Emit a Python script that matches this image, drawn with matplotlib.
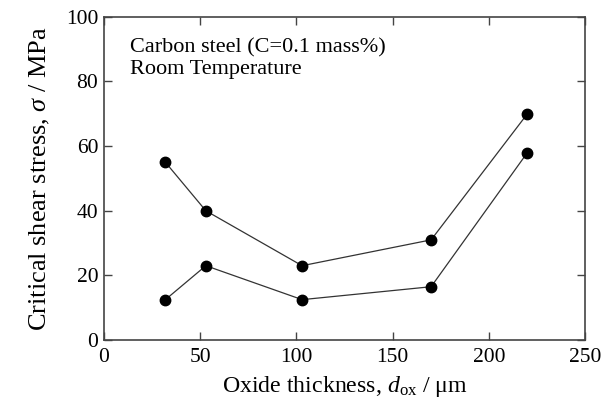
import matplotlib
matplotlib.use("Agg")
import matplotlib.pyplot as plt

# data
thickness = [32, 53, 103, 170, 220]
stress_upper = [55, 40, 23, 31, 70]
stress_lower = [12.5, 23, 12.5, 16.5, 58]

plt.rcParams["font.family"] = ["Liberation Serif", "DejaVu Serif"]
plt.rcParams["mathtext.fontset"] = "custom"
plt.rcParams["mathtext.rm"] = "Liberation Serif"
plt.rcParams["mathtext.it"] = "Liberation Serif:italic"

fig = plt.figure(figsize=(6.07, 4.01), dpi=100)
ax = fig.add_axes([0.171, 0.152, 0.793, 0.806])

for ys in (stress_upper, stress_lower):
    ax.plot(thickness, ys, color="#333333", linewidth=0.9,
            marker="o", markersize=7.5, markerfacecolor="black",
            markeredgecolor="black", zorder=3)

ax.set_xlim(0, 250)
ax.set_ylim(0, 100)
ax.set_xticks(range(0, 251, 50))
ax.set_yticks(range(0, 101, 20))
ax.tick_params(direction="in", length=6, width=1, labelsize=15.5,
               top=True, right=True, color="#444444")
ax.tick_params(axis="x", pad=6)
ax.tick_params(axis="y", pad=4)
for spine in ax.spines.values():
    spine.set_edgecolor("#444444")
    spine.set_linewidth(1.2)

ax.set_xlabel(r"Oxide thickness, $d_{\rm ox}$ / $\mathrm{\mu m}$", fontsize=17.2, labelpad=5)
ax.set_ylabel(r"Critical shear stress, $\sigma$ / MPa", fontsize=19, labelpad=10)

ax.text(0.054, 0.935, "Carbon steel (C=0.1 mass%)\nRoom Temperature",
        transform=ax.transAxes, va="top", ha="left", fontsize=16,
        linespacing=1.2)

fig.savefig("out.png", dpi=100)
